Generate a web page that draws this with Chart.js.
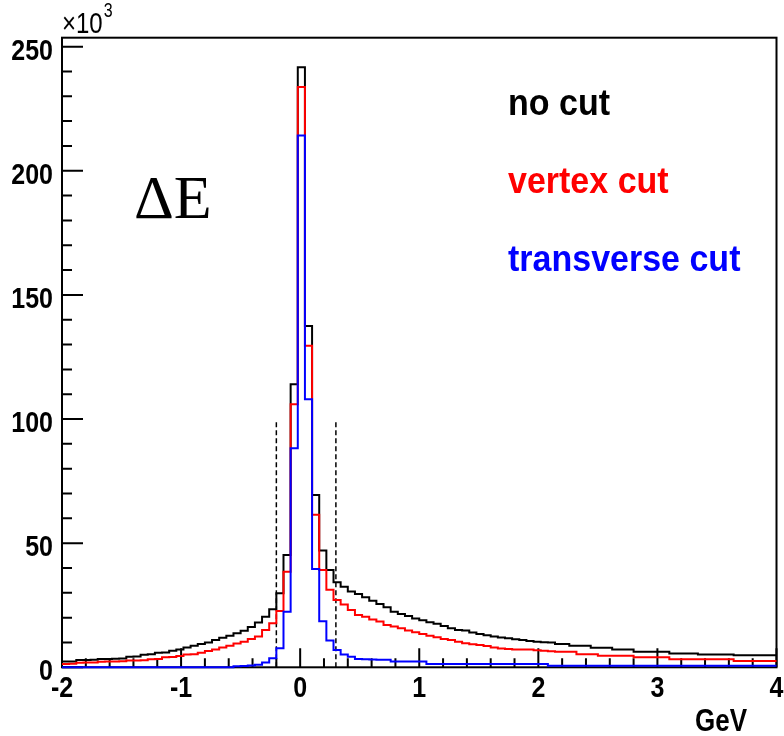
<!DOCTYPE html>
<html>
<head>
<meta charset="utf-8">
<script src="https://cdn.jsdelivr.net/npm/chart.js@4/dist/chart.umd.min.js"></script>
<style>
  html, body { margin: 0; padding: 0; background: #ffffff; }
  #wrap { width: 784px; height: 736px; }
</style>
</head>
<body>
<div id="wrap"><canvas id="c" width="784" height="736"></canvas></div>
<script>
// Histogram binning: 100 bins from -2 to 4 GeV
const BIN_LOW = -2;
const BIN_WIDTH = 0.06;
const N_BINS = 100;

// Bin contents in units of 10^3 entries
const noCut = [
  2.3, 2.3, 2.9, 2.9, 3.0, 3.3, 3.3, 3.4, 3.5, 4.2,
  4.4, 5.1, 5.3, 5.9, 6.0, 6.7, 7.2, 8.0, 8.7, 9.4,
  10.0, 11.0, 11.9, 12.7, 13.7, 14.7, 16.2, 18.0, 20.4, 23.4,
  29.8, 45.2, 114.0, 241.7, 137.5, 69.4, 47.0, 39.2, 34.3, 32.4,
  30.5, 29.5, 28.2, 26.8, 25.5, 24.2, 22.4, 21.5, 20.7, 19.7,
  19.0, 18.1, 17.5, 16.6, 15.7, 15.0, 14.8, 14.0, 13.4, 12.9,
  12.4, 12.0, 11.7, 11.3, 11.0, 10.6, 10.3, 10.1, 10.0, 9.4,
  9.4, 8.7, 8.7, 8.7, 7.9, 7.9, 7.9, 7.2, 7.2, 7.2,
  6.3, 6.3, 6.3, 6.3, 6.3, 5.6, 5.6, 5.6, 5.6, 5.2,
  5.2, 5.2, 5.2, 5.2, 4.9, 4.9, 4.9, 4.9, 4.9, 4.9
];
const vertexCut = [
  1.3, 1.4, 1.8, 1.9, 1.9, 2.2, 2.3, 2.3, 2.4, 2.7,
  2.7, 2.8, 3.2, 3.3, 4.0, 4.1, 4.6, 5.2, 5.3, 5.9,
  6.6, 7.2, 8.0, 8.7, 9.6, 10.3, 11.4, 12.4, 15.0, 17.7,
  22.7, 38.5, 106.0, 233.7, 129.5, 61.4, 39.2, 31.2, 27.1, 25.3,
  23.1, 21.1, 20.4, 19.3, 18.4, 17.0, 16.4, 15.7, 14.8, 14.1,
  13.4, 12.7, 12.1, 11.4, 11.0, 10.3, 9.7, 9.3, 9.0, 8.6,
  8.0, 7.6, 7.4, 7.2, 7.2, 7.2, 6.9, 6.7, 6.5, 6.3,
  6.3, 6.3, 5.3, 5.3, 5.3, 4.7, 4.7, 4.7, 4.7, 4.7,
  4.0, 4.0, 4.0, 4.0, 4.0, 3.2, 3.2, 3.2, 3.2, 3.2,
  3.2, 3.2, 3.2, 3.2, 2.5, 2.5, 2.5, 2.5, 2.5, 2.5
];
const transverseCut = [
  0, 0, 0, 0, 0, 0, 0, 0, 0, 0,
  0, 0, 0, 0, 0, 0, 0, 0, 0, 0,
  0, 0, 0, 0, 0.4, 0.5, 0.7, 1.0, 1.9, 3.6,
  7.7, 22.4, 88.2, 214.2, 108.0, 39.6, 18.5, 10.8, 7.0, 5.2,
  4.2, 3.3, 3.2, 3.1, 3.0, 3.0, 2.3, 2.3, 2.3, 2.3,
  2.3, 1.3, 1.3, 1.3, 1.3, 1.3, 1.3, 1.3, 1.3, 1.3,
  1.3, 1.3, 1.3, 1.3, 1.3, 1.3, 1.3, 1.3, 0.6, 0.6,
  0.6, 0.6, 0.6, 0.6, 0.6, 0.6, 0.6, 0.6, 0.6, 0.6,
  0.6, 0.6, 0.6, 0.6, 0.6, 0.6, 0.6, 0.6, 0.6, 0.6,
  0.6, 0.6, 0.6, 0.6, 0.6, 0.6, 0.6, 0.6, 0.6, 0.6
];

// Signal window marked by dashed lines
const cutPositions = [-0.2, 0.3];
const cutLineTop = 99;

// Axis definitions
const X_MIN = -2, X_MAX = 4;
const Y_MIN = 0, Y_MAX = 253.6;
const xTickValues = [-2, -1, 0, 1, 2, 3, 4];
const yTickValues = [0, 50, 100, 150, 200, 250];
const xMinorStep = 0.2;
const yMinorStep = 10;

const legendLabels = ['no cut', 'vertex cut', 'transverse cut'];
const seriesColors = ['#000000', '#ff0000', '#0000ff'];

// Turn bin contents into step-line points at the bin low edges,
// closing with the upper edge of the last bin.
function histPoints(values) {
  const pts = values.map((v, i) => ({ x: BIN_LOW + i * BIN_WIDTH, y: v }));
  pts.push({ x: BIN_LOW + N_BINS * BIN_WIDTH, y: values[values.length - 1] });
  return pts;
}

function histDataset(values, color, order) {
  return {
    data: histPoints(values),
    borderColor: color,
    borderWidth: 2,
    stepped: 'before',
    pointRadius: 0,
    fill: false,
    order: order,
    clip: 4
  };
}

const cutDatasets = cutPositions.map(x => ({
  data: [{ x: x, y: 0 }, { x: x, y: cutLineTop }],
  borderColor: '#000000',
  borderWidth: 1.5,
  borderDash: [5, 3],
  pointRadius: 0,
  fill: false,
  order: 5
}));

const SANS = "'Liberation Sans', Arial, sans-serif";
const STRETCH = 1.18;

// Text drawn with the tall, slightly condensed look of the axis labels
function tallText(ctx, text, x, y, font, align, stretch) {
  ctx.save();
  ctx.font = font;
  ctx.textAlign = align;
  ctx.textBaseline = 'alphabetic';
  ctx.translate(x, y);
  ctx.scale(1, stretch);
  ctx.fillText(text, 0, 0);
  ctx.restore();
}

// Frame, inward-pointing ticks and tick labels, placed through the chart's scales
const framePlugin = {
  id: 'frameTicks',
  beforeDatasetsDraw(chart) {
    const { ctx, chartArea: a, scales } = chart;
    const xs = scales.x, ys = scales.y;
    ctx.save();
    ctx.strokeStyle = '#000000';
    ctx.lineWidth = 2;
    ctx.strokeRect(a.left, a.top, a.right - a.left, a.bottom - a.top);
    ctx.beginPath();
    for (let v = X_MIN; v <= X_MAX + 1e-9; v += xMinorStep) {
      const px = xs.getPixelForValue(v);
      const major = Math.abs(v - Math.round(v)) < 1e-6;
      const len = major ? 19 : 9;
      ctx.moveTo(px, a.bottom);
      ctx.lineTo(px, a.bottom - len);
    }
    for (let v = Y_MIN; v <= 250 + 1e-9; v += yMinorStep) {
      const py = ys.getPixelForValue(v);
      const major = Math.abs(v % 50) < 1e-6;
      const len = major ? 21 : 10;
      ctx.moveTo(a.left, py);
      ctx.lineTo(a.left + len, py);
    }
    ctx.stroke();
    ctx.restore();

    ctx.save();
    ctx.fillStyle = '#000000';
    const tickFont = 'bold 25px ' + SANS;
    xs.ticks.forEach(t => {
      tallText(ctx, String(t.value), xs.getPixelForValue(t.value), a.bottom + 30, tickFont, 'center', STRETCH);
    });
    ys.ticks.forEach(t => {
      tallText(ctx, String(t.value), a.left - 9, ys.getPixelForValue(t.value) + 13, tickFont, 'right', STRETCH);
    });
    ctx.restore();
  },
  afterDraw(chart) {
    const { ctx, chartArea: a } = chart;
    ctx.save();
    ctx.fillStyle = '#000000';
    // axis multiplier
    tallText(ctx, '\u00d710', a.left, 33, '24px ' + SANS, 'left', 1.22);
    ctx.font = '24px ' + SANS;
    const w = ctx.measureText('\u00d710').width;
    tallText(ctx, '3', a.left + w + 1, 17, '16px ' + SANS, 'left', 1.22);
    // axis title
    tallText(ctx, 'GeV', 747, 731, 'bold 26px ' + SANS, 'right', STRETCH);
    // quantity label
    ctx.textAlign = 'left';
    ctx.textBaseline = 'alphabetic';
    ctx.font = "62px 'Liberation Serif', 'Times New Roman', serif";
    ctx.fillText('\u0394E', 134, 218);
    // series labels
    const baselines = [115, 193, 271];
    legendLabels.forEach((t, i) => {
      ctx.fillStyle = seriesColors[i];
      tallText(ctx, t, 508, baselines[i], 'bold 34px ' + SANS, 'left', 1.08);
    });
    ctx.restore();
  }
};

Chart.defaults.font.family = SANS;

new Chart(document.getElementById('c'), {
  type: 'line',
  data: {
    datasets: [
      histDataset(noCut, seriesColors[0], 3),
      histDataset(vertexCut, seriesColors[1], 2),
      histDataset(transverseCut, seriesColors[2], 1),
      ...cutDatasets
    ]
  },
  options: {
    responsive: false,
    devicePixelRatio: 1,
    animation: false,
    layout: { padding: { top: 37.7, right: 7.5, left: 0, bottom: 0 } },
    plugins: { legend: { display: false }, tooltip: { enabled: false } },
    scales: {
      x: {
        type: 'linear',
        min: X_MIN,
        max: X_MAX,
        afterBuildTicks: s => { s.ticks = xTickValues.map(v => ({ value: v })); },
        afterFit: s => { s.height = 68.7; },
        grid: { display: false, drawTicks: false },
        border: { display: false },
        ticks: { display: false }
      },
      y: {
        type: 'linear',
        min: Y_MIN,
        max: Y_MAX,
        afterBuildTicks: s => { s.ticks = yTickValues.map(v => ({ value: v })); },
        afterFit: s => { s.width = 62; },
        grid: { display: false, drawTicks: false },
        border: { display: false },
        ticks: { display: false }
      }
    }
  },
  plugins: [framePlugin]
});
</script>
</body>
</html>
